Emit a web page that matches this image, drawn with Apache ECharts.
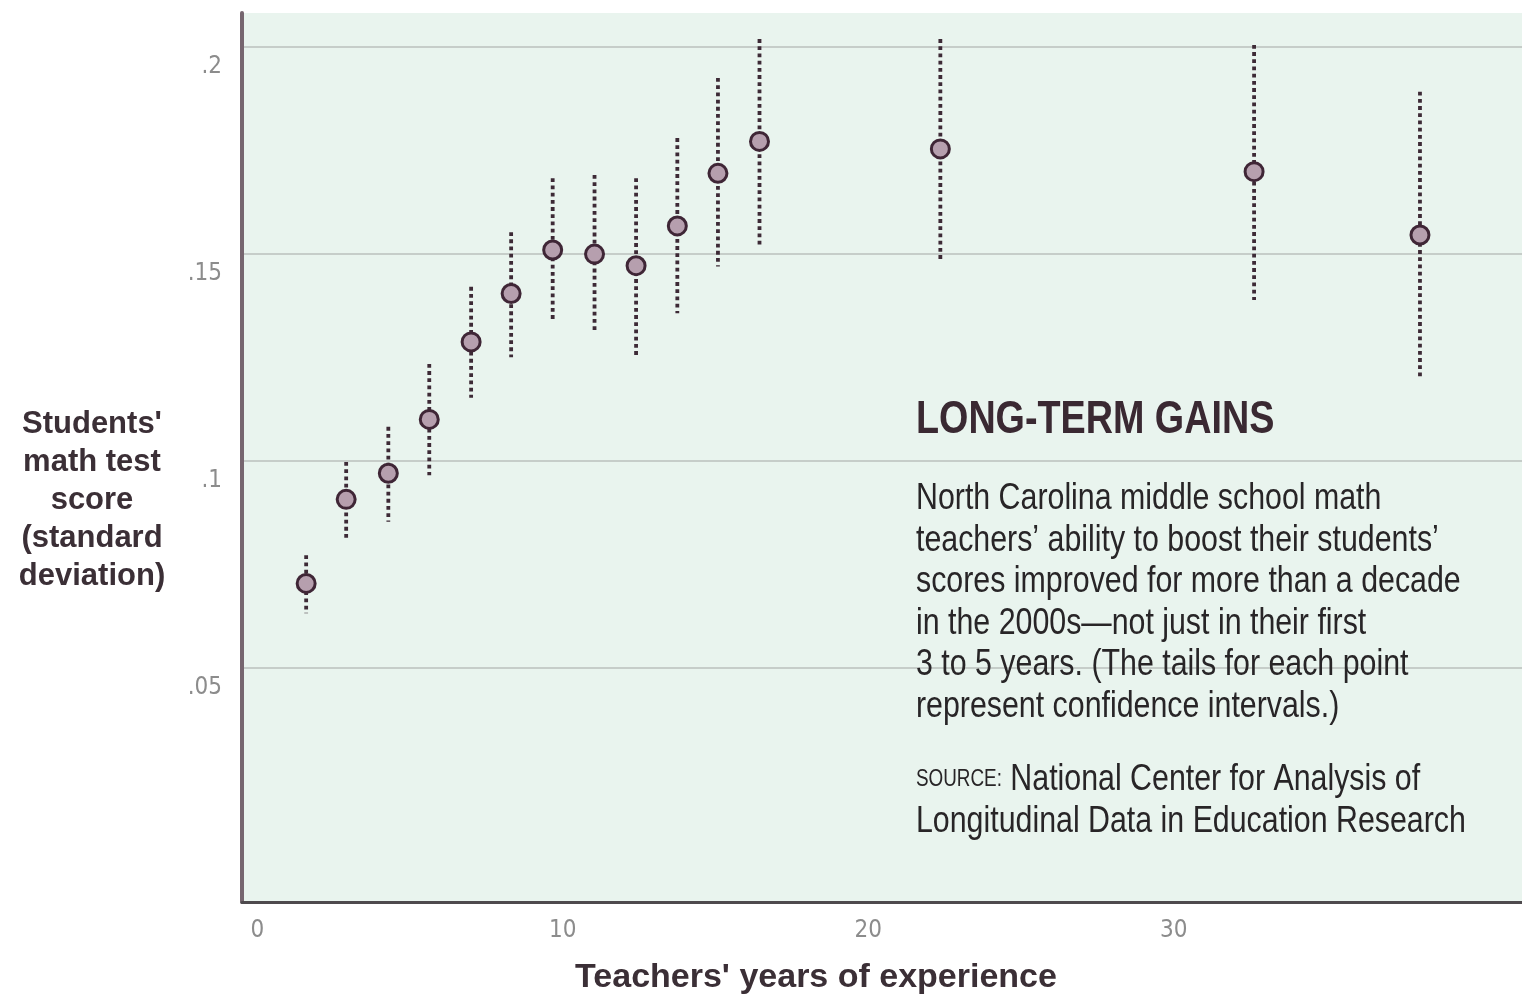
<!DOCTYPE html>
<html>
<head>
<meta charset="utf-8">
<script src="https://cdn.jsdelivr.net/npm/echarts@6/dist/echarts.min.js"></script>
<style>
html,body{margin:0;padding:0;background:#ffffff;}
#chart{width:1522px;height:999px;}
</style>
</head>
<body>
<div id="chart"></div>
<script>
// Teachers' years of experience (x) for each point
const xYears = [1.60, 2.91, 4.29, 5.63, 7.00, 8.31, 9.67, 11.04, 12.40, 13.75, 15.08, 16.44, 22.36, 32.63, 38.06];
// Students' math test score (standard deviation)
const scoreMean = [0.0704, 0.0907, 0.0970, 0.1100, 0.1287, 0.1404, 0.1509, 0.1499, 0.1471, 0.1567, 0.1694, 0.1771, 0.1753, 0.1698, 0.1545];
const ciLow  = [0.0632, 0.0813, 0.0853, 0.0965, 0.1152, 0.1250, 0.1336, 0.1308, 0.1255, 0.1356, 0.1469, 0.1517, 0.1481, 0.1388, 0.1199];
const ciHigh = [0.0772, 0.0997, 0.1082, 0.1234, 0.1420, 0.1552, 0.1682, 0.1690, 0.1682, 0.1779, 0.1924, 0.2018, 0.2018, 0.2004, 0.1891];
// Tick values and labels
const yTickValues = [0.05, 0.1, 0.15, 0.2];
const yTickLabels = ['.05', '.1', '.15', '.2'];
const xTickValues = [0, 10, 20, 30];
const xTickLabels = ['0', '10', '20', '30'];

const NARROW = "'DejaVu Sans Condensed','Liberation Sans Narrow','Liberation Sans',sans-serif";
const SANS = "'Liberation Sans','Arial',sans-serif";

const points = xYears.map((x, i) => [x, scoreMean[i]]);
const bars = xYears.map((x, i) => [x, ciLow[i], ciHigh[i]]);

const chart = echarts.init(document.getElementById('chart'), null, {renderer: 'canvas'});
chart.setOption({
  animation: false,
  backgroundColor: '#ffffff',
  grid: {
    left: 242, right: 0, top: 13, bottom: 97,
    show: true, backgroundColor: '#e9f4ee', borderWidth: 0
  },
  xAxis: {
    type: 'value', min: -0.5, max: 41.4,
    axisLine: {show: true, onZero: false, lineStyle: {color: '#4e4a4d', width: 3}},
    axisTick: {show: false},
    splitLine: {show: false},
    axisLabel: {
      customValues: xTickValues,
      formatter: v => xTickLabels[xTickValues.indexOf(v)] ?? '',
      color: '#8c8c8c', fontSize: 24, fontFamily: NARROW, margin: 17
    }
  },
  yAxis: {
    type: 'value', min: -0.0065, max: 0.2081,
    axisLine: {show: true, onZero: false, lineStyle: {color: '#76666f', width: 4}},
    axisTick: {show: false, customValues: yTickValues},
    splitLine: {show: true, lineStyle: {color: '#c6cdc9', width: 2}},
    axisLabel: {
      customValues: yTickValues,
      formatter: v => {
        const i = yTickValues.findIndex(t => Math.abs(t - v) < 1e-9);
        return i >= 0 ? yTickLabels[i] : '';
      },
      color: '#8c8c8c', fontSize: 24, fontFamily: NARROW, margin: 20,
      verticalAlign: 'top', padding: [8, 0, 0, 0]
    }
  },
  series: [
    {
      type: 'custom',
      data: bars,
      encode: {x: 0, y: [1, 2]},
      z: 2,
      renderItem: function (params, api) {
        const x = api.value(0);
        const p1 = api.coord([x, api.value(2)]);
        const p2 = api.coord([x, api.value(1)]);
        return {
          type: 'line',
          shape: {x1: p1[0], y1: p1[1], x2: p2[0], y2: p2[1]},
          style: {stroke: '#3d2a36', lineWidth: 3.8, lineDash: [3.8, 3.4], lineCap: 'butt'}
        };
      }
    },
    {
      type: 'scatter',
      data: points,
      z: 3,
      symbol: 'circle',
      symbolSize: 18,
      itemStyle: {color: '#b69fae', borderColor: '#3f2636', borderWidth: 3, opacity: 1}
    }
  ],
  graphic: [
    {
      type: 'text', x: 92, y: 405,
      style: {
        text: "Students'\nmath test\nscore\n(standard\ndeviation)",
        font: "bold 31px " + SANS, fill: '#3b2f36',
        textAlign: 'center', textVerticalAlign: 'top', lineHeight: 38
      }
    },
    {
      type: 'text', x: 816, y: 978,
      style: {
        text: "Teachers' years of experience",
        font: "bold 34px " + SANS, fill: '#3b2f36',
        textAlign: 'center', textVerticalAlign: 'middle'
      }
    },
    {
      type: 'text', x: 916, y: 420, z: 10, scaleX: 0.82,
      style: {
        text: 'LONG-TERM GAINS',
        font: "bold 46px " + SANS, fill: '#3a2932',
        textAlign: 'left', textVerticalAlign: 'middle'
      }
    },
    {
      type: 'text', x: 916, y: 478, z: 10, scaleX: 0.82,
      style: {
        text: "North Carolina middle school math\nteachers’ ability to boost their students’\nscores improved for more than a decade\nin the 2000s—not just in their first\n3 to 5 years. (The tails for each point\nrepresent confidence intervals.)",
        font: "37px " + SANS, fill: '#282527',
        textAlign: 'left', textVerticalAlign: 'top', lineHeight: 41.6
      }
    },
    {
      type: 'text', x: 916, y: 759, z: 10, scaleX: 0.82,
      style: {
        text: '{s|SOURCE:} National Center for Analysis of\nLongitudinal Data in Education Research',
        font: "37px " + SANS, fill: '#282527',
        textAlign: 'left', textVerticalAlign: 'top', lineHeight: 41.6,
        rich: {
          s: {font: "23px " + SANS, fill: '#282527', lineHeight: 41.6}
        }
      }
    }
  ]
});
</script>
</body>
</html>
